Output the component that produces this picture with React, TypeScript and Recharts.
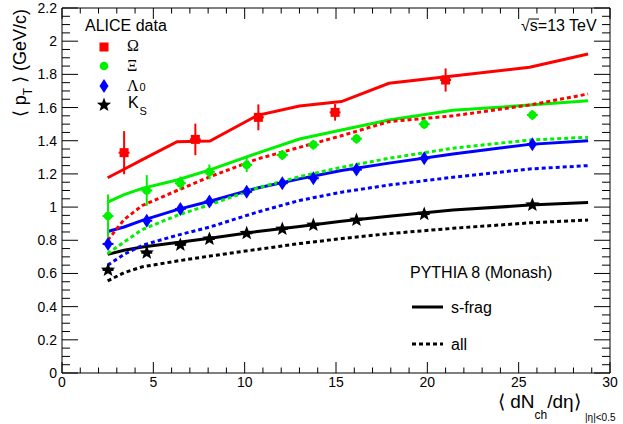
import React from 'react';
import { ComposedChart, Line, Scatter, XAxis, YAxis, ErrorBar } from 'recharts';

// ---- PYTHIA 8 model curves ----
const modelX = [2.5, 3.4, 4.4, 6.3, 8.1, 10.7, 13.0, 15.3, 17.9, 21.4, 25.6, 28.8];
const omegaSfrag = [1.177, 1.228, 1.286, 1.394, 1.398, 1.553, 1.609, 1.636, 1.746, 1.79, 1.843, 1.923];
const omegaAll = [0.8, 0.925, 1.01, 1.1, 1.183, 1.29, 1.36, 1.43, 1.515, 1.55, 1.615, 1.682];
const xiSfrag = [1.03, 1.075, 1.113, 1.163, 1.224, 1.325, 1.41, 1.465, 1.525, 1.583, 1.615, 1.641];
const xiAll = [0.72, 0.79, 0.865, 0.95, 1.015, 1.115, 1.183, 1.24, 1.294, 1.355, 1.404, 1.421];
const lambdaSfrag = [0.853, 0.88, 0.92, 0.985, 1.035, 1.115, 1.17, 1.22, 1.265, 1.32, 1.378, 1.4];
const lambdaAll = [0.65, 0.715, 0.77, 0.83, 0.88, 0.97, 1.04, 1.09, 1.133, 1.18, 1.23, 1.25];
const k0sSfrag = [0.715, 0.74, 0.76, 0.787, 0.812, 0.853, 0.883, 0.915, 0.945, 0.982, 1.012, 1.027];
const k0sAll = [0.555, 0.605, 0.64, 0.675, 0.705, 0.745, 0.78, 0.81, 0.84, 0.872, 0.905, 0.922];

// ---- ALICE data ----
const omegaX = [3.4, 7.3, 10.75, 14.95, 21.0];
const omegaY = [1.328, 1.408, 1.541, 1.571, 1.766];
const omegaErr = [0.13, 0.095, 0.078, 0.05, 0.07];
const dataX = [2.52, 4.64, 6.48, 8.07, 10.11, 12.06, 13.76, 16.12, 19.83, 25.75];
const xiY = [0.946, 1.1, 1.144, 1.212, 1.254, 1.314, 1.376, 1.412, 1.5, 1.555];
const xiErr = [0.13, 0.093, 0.04, 0.045, 0.043, 0.03, 0.03, 0.03, 0.03, 0.03];
const lambdaY = [0.778, 0.918, 0.989, 1.033, 1.092, 1.144, 1.174, 1.226, 1.294, 1.379];
const lambdaErr = [0.02, 0.02, 0.02, 0.02, 0.02, 0.02, 0.02, 0.02, 0.02, 0.02];
const k0sY = [0.621, 0.725, 0.772, 0.808, 0.842, 0.868, 0.892, 0.922, 0.958, 1.013];
const k0sErr = [0.015, 0.015, 0.015, 0.015, 0.015, 0.015, 0.015, 0.015, 0.015, 0.015];
const xHalfWidth = 0.3;

// ---- axis ticks ----
const xMajorTicks = [0, 5, 10, 15, 20, 25, 30];
const yMajorTicks = [0, 0.2, 0.4, 0.6, 0.8, 1, 1.2, 1.4, 1.6, 1.8, 2, 2.2];
const xTicks = Array.from({ length: 31 }, (_, i) => i);
const yTicks = Array.from({ length: 45 }, (_, i) => Math.round(i * 5) / 100);

const modelData = modelX.map((x, i) => ({
  x,
  omegaSfrag: omegaSfrag[i],
  omegaAll: omegaAll[i],
  xiSfrag: xiSfrag[i],
  xiAll: xiAll[i],
  lambdaSfrag: lambdaSfrag[i],
  lambdaAll: lambdaAll[i],
  k0sSfrag: k0sSfrag[i],
  k0sAll: k0sAll[i],
}));

const mk = (xs: number[], ys: number[], es: number[]) =>
  xs.map((x, i) => ({ x, y: ys[i], ey: es[i], ex: xHalfWidth }));
const omegaData = mk(omegaX, omegaY, omegaErr);
const xiData = mk(dataX, xiY, xiErr);
const lambdaData = mk(dataX, lambdaY, lambdaErr);
const k0sData = mk(dataX, k0sY, k0sErr);

const RED = '#ff0000';
const GREEN = '#00f000';
const BLUE = '#0000ff';
const BLACK = '#000000';
const FONT = '"Liberation Sans", Arial, Helvetica, sans-serif';
const SERIF = '"Liberation Serif", "DejaVu Serif", serif';

const isMajorX = (v: number) => xMajorTicks.some((t) => Math.abs(t - v) < 1e-6);
const isMajorY = (v: number) => yMajorTicks.some((t) => Math.abs(t - v) < 1e-6);

const BottomTick = (p: any) => {
  const v = p.payload.value;
  const major = isMajorX(v);
  return (
    <g>
      <line x1={p.x} x2={p.x} y1={p.y} y2={p.y - (major ? 11 : 5.5)} stroke="#000" strokeWidth={1} />
      {major && (
        <text x={p.x} y={p.y + 14} textAnchor="middle" fontFamily={FONT} fontSize={14} fill="#000">
          {String(v)}
        </text>
      )}
    </g>
  );
};
const TopTick = (p: any) => {
  const major = isMajorX(p.payload.value);
  return <line x1={p.x} x2={p.x} y1={p.y} y2={p.y + (major ? 11 : 5.5)} stroke="#000" strokeWidth={1} />;
};
const LeftTick = (p: any) => {
  const v = p.payload.value;
  const major = isMajorY(v);
  return (
    <g>
      <line x1={p.x} x2={p.x + (major ? 16 : 8)} y1={p.y} y2={p.y} stroke="#000" strokeWidth={1} />
      {major && (
        <text x={p.x - 5} y={p.y + 5} textAnchor="end" fontFamily={FONT} fontSize={14} fill="#000">
          {String(Math.round(v * 10) / 10)}
        </text>
      )}
    </g>
  );
};
const RightTick = (p: any) => {
  const major = isMajorY(p.payload.value);
  return <line x1={p.x} x2={p.x - (major ? 16 : 8)} y1={p.y} y2={p.y} stroke="#000" strokeWidth={1} />;
};

function starPath(cx: number, cy: number, R: number, r: number) {
  let d = '';
  for (let i = 0; i < 10; i++) {
    const ang = -Math.PI / 2 + (i * Math.PI) / 5;
    const rad = i % 2 === 0 ? R : r;
    d += (i === 0 ? 'M' : 'L') + (cx + rad * Math.cos(ang)).toFixed(2) + ',' + (cy + rad * Math.sin(ang)).toFixed(2);
  }
  return d + 'Z';
}

const Square = ({ cx, cy, color }: any) => <rect x={cx - 4.5} y={cy - 4.5} width={9} height={9} fill={color} />;
const Circle = ({ cx, cy, color }: any) => <circle cx={cx} cy={cy} r={4.3} fill={color} />;
const Diamond = ({ cx, cy, color }: any) => (
  <polygon points={`${cx},${cy - 7} ${cx + 4.5},${cy} ${cx},${cy + 7} ${cx - 4.5},${cy}`} fill={color} />
);
const Star = ({ cx, cy, color }: any) => <path d={starPath(cx, cy, 7.5, 3.2)} fill={color} />;

const solid = { strokeWidth: 3, dot: false as const, isAnimationActive: false, activeDot: false as const };
const axisCommon = {
  type: 'number' as const,
  interval: 0 as const,
  tickSize: 0,
  tickMargin: 0,
  tickLine: false,
  axisLine: { stroke: '#000', strokeWidth: 1 },
  allowDataOverflow: true,
};

export default function App() {
  return (
    <div style={{ position: 'absolute', left: 0, top: 0, width: 623, height: 424, background: '#fff' }}>
      <ComposedChart width={623} height={424} data={modelData} margin={{ top: 7, right: 12, bottom: 50, left: 61 }}>
        <XAxis
          {...axisCommon}
          dataKey="x"
          domain={[0, 30]}
          ticks={xTicks}
          height={1}
          tick={(p: any) => <BottomTick {...p} />}
        />
        <XAxis
          {...axisCommon}
          xAxisId="top"
          orientation="top"
          dataKey="x"
          domain={[0, 30]}
          ticks={xTicks}
          height={1}
          tick={(p: any) => <TopTick {...p} />}
        />
        <YAxis
          {...axisCommon}
          domain={[0, 2.2]}
          ticks={yTicks}
          width={1}
          tick={(p: any) => <LeftTick {...p} />}
        />
        <YAxis
          {...axisCommon}
          yAxisId="right"
          orientation="right"
          domain={[0, 2.2]}
          ticks={yTicks}
          width={1}
          tick={(p: any) => <RightTick {...p} />}
        />

        <Line dataKey="k0sAll" stroke={BLACK} strokeDasharray="4 3" {...solid} />
        <Line dataKey="k0sSfrag" stroke={BLACK} {...solid} />
        <Line dataKey="lambdaAll" stroke={BLUE} strokeDasharray="4 3" {...solid} />
        <Line dataKey="lambdaSfrag" stroke={BLUE} {...solid} />
        <Line dataKey="xiAll" stroke={GREEN} strokeDasharray="4 3" {...solid} />
        <Line dataKey="xiSfrag" stroke={GREEN} {...solid} />
        <Line dataKey="omegaAll" stroke={RED} strokeDasharray="4 3" {...solid} />
        <Line dataKey="omegaSfrag" stroke={RED} {...solid} />

        <Scatter data={k0sData} dataKey="y" isAnimationActive={false} shape={(p: any) => <Star {...p} color={BLACK} />}>
          <ErrorBar dataKey="ey" direction="y" width={0} stroke={BLACK} strokeWidth={2} />
          <ErrorBar dataKey="ex" direction="x" width={0} stroke={BLACK} strokeWidth={2} />
        </Scatter>
        <Scatter data={lambdaData} dataKey="y" isAnimationActive={false} shape={(p: any) => <Diamond {...p} color={BLUE} />}>
          <ErrorBar dataKey="ey" direction="y" width={0} stroke={BLUE} strokeWidth={2} />
          <ErrorBar dataKey="ex" direction="x" width={0} stroke={BLUE} strokeWidth={2} />
        </Scatter>
        <Scatter data={xiData} dataKey="y" isAnimationActive={false} shape={(p: any) => <Circle {...p} color={GREEN} />}>
          <ErrorBar dataKey="ey" direction="y" width={0} stroke={GREEN} strokeWidth={2} />
          <ErrorBar dataKey="ex" direction="x" width={0} stroke={GREEN} strokeWidth={2} />
        </Scatter>
        <Scatter data={omegaData} dataKey="y" isAnimationActive={false} shape={(p: any) => <Square {...p} color={RED} />}>
          <ErrorBar dataKey="ey" direction="y" width={0} stroke={RED} strokeWidth={2} />
          <ErrorBar dataKey="ex" direction="x" width={0} stroke={RED} strokeWidth={2} />
        </Scatter>
      </ComposedChart>

      <svg
        width={623}
        height={424}
        style={{ position: 'absolute', left: 0, top: 0, pointerEvents: 'none' }}
        fontFamily={FONT}
      >
        {/* Y title */}
        <text transform="translate(26,9) rotate(-90)" textAnchor="end" fontSize={18} fill="#000">
          <tspan>⟨ p</tspan>
          <tspan fontSize={12} dy={6}>T</tspan>
          <tspan dy={-6}>  ⟩ (GeV/c)</tspan>
        </text>
        {/* X title */}
        <text x={498} y={408} fontSize={19} fill="#000">
          <tspan>⟨ dN</tspan>
          <tspan fontSize={12} dy={11}>ch</tspan>
          <tspan dy={-11}>/dη⟩</tspan>
        </text>
        <text x={585} y={421} fontSize={10} fill="#000">|η|&lt;0.5</text>

        {/* ALICE legend */}
        <text x={85} y={31} fontSize={16} fill="#000">ALICE data</text>
        <Square cx={104} cy={47} color={RED} />
        <Circle cx={104} cy={66} color={GREEN} />
        <Diamond cx={104} cy={86} color={BLUE} />
        <Star cx={104} cy={105} color={BLACK} />
        <text x={127} y={51} fontSize={16} fontFamily={SERIF} fill="#000">Ω</text>
        <text x={127} y={70.5} fontSize={16} fontFamily={SERIF} fill="#000">Ξ</text>
        <text x={127} y={90.5} fontSize={16} fontFamily={SERIF} fill="#000">Λ</text>
        <text x={128} y={108} fontSize={16} fill="#000">K</text>
        <text x={139.5} y={91} fontSize={11} fill="#000">0</text>
        <text x={139.5} y={115} fontSize={11} fill="#000">S</text>

        {/* energy */}
        <text x={521} y={31} fontSize={16} fill="#000">
          <tspan>√</tspan>
          <tspan>s=13 TeV</tspan>
        </text>
        <line x1={530} x2={539} y1={19} y2={19} stroke="#000" strokeWidth={1} />

        {/* PYTHIA legend */}
        <text x={410} y={278} fontSize={16} fill="#000">PYTHIA 8 (Monash)</text>
        <line x1={412} x2={443} y1={307} y2={307} stroke="#000" strokeWidth={3} />
        <text x={451} y={313} fontSize={16} fill="#000">s-frag</text>
        <line x1={412} x2={443} y1={344} y2={344} stroke="#000" strokeWidth={3} strokeDasharray="4 3" />
        <text x={451} y={350} fontSize={16} fill="#000">all</text>
      </svg>
    </div>
  );
}
